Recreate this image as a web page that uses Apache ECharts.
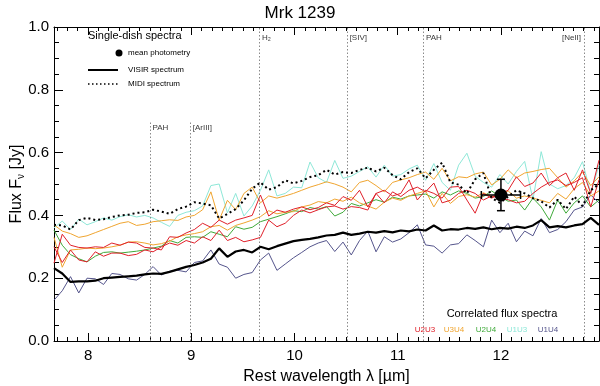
<!DOCTYPE html>
<html>
<head>
<meta charset="utf-8">
<script src="https://cdn.jsdelivr.net/npm/echarts@6/dist/echarts.min.js"></script>
<style>
  html, body { margin: 0; padding: 0; background: #fff; }
  #chart { width: 600px; height: 386px; }
</style>
</head>
<body>
<div id="chart"></div>
<script>
// wavelength grid [um]
var wavelength = [7.67, 7.75, 7.83, 7.91, 7.99, 8.07, 8.15, 8.23, 8.31, 8.39, 8.47, 8.55, 8.63, 8.71, 8.79, 8.87, 8.95,
  9.03, 9.11, 9.19, 9.27, 9.35, 9.43, 9.51, 9.59, 9.67, 9.75, 9.83, 9.91, 9.99, 10.07, 10.15, 10.23, 10.31, 10.39,
  10.47, 10.55, 10.63, 10.71, 10.79, 10.87, 10.95, 11.03, 11.11, 11.19, 11.27, 11.35, 11.43, 11.51, 11.59, 11.67,
  11.75, 11.83, 11.91, 11.99, 12.07, 12.15, 12.23, 12.31, 12.39, 12.47, 12.55, 12.63, 12.71, 12.79, 12.87, 12.95];

// single dish spectra
var visir = [0.232, 0.215, 0.188, 0.190, 0.190, 0.192, 0.200, 0.202, 0.204, 0.206, 0.208, 0.212, 0.215, 0.214, 0.220, 0.228, 0.236,
  0.242, 0.250, 0.262, 0.295, 0.268, 0.285, 0.290, 0.282, 0.300, 0.292, 0.302, 0.310, 0.318, 0.322, 0.325, 0.330, 0.336, 0.338,
  0.345, 0.338, 0.342, 0.348, 0.345, 0.350, 0.346, 0.352, 0.349, 0.355, 0.352, 0.368, 0.352, 0.356, 0.355, 0.360,
  0.357, 0.362, 0.356, 0.360, 0.358, 0.364, 0.360, 0.368, 0.385, 0.362, 0.366, 0.362, 0.368, 0.372, 0.392, 0.370];
var midi = [0.370, 0.368, 0.355, 0.385, 0.392, 0.385, 0.388, 0.395, 0.400, 0.402, 0.408, 0.410, 0.418, 0.412, 0.405, 0.420, 0.428,
  0.442, 0.438, 0.432, 0.390, 0.405, 0.420, 0.448, 0.485, 0.505, 0.482, 0.490, 0.512, 0.502, 0.510, 0.522, 0.528, 0.545, 0.530,
  0.538, 0.535, 0.545, 0.552, 0.540, 0.552, 0.528, 0.515, 0.538, 0.550, 0.518, 0.545, 0.568, 0.505, 0.498, 0.470,
  0.515, 0.535, 0.455, 0.440, 0.460, 0.480, 0.470, 0.455, 0.445, 0.425, 0.450, 0.420, 0.460, 0.430, 0.480, 0.500];

// mean photometry
var photWave = [12.0];
var photFlux = [0.465];
var photWaveErr = [0.19];
var photFluxErr = [0.05];

// correlated flux spectra
var u1u3 = [0.360, 0.382, 0.355, 0.388, 0.370, 0.380, 0.392, 0.385, 0.396, 0.402, 0.395, 0.400, 0.392, 0.378, 0.365, 0.400, 0.410,
  0.415, 0.430, 0.495, 0.500, 0.408, 0.470, 0.398, 0.430, 0.480, 0.545, 0.462, 0.470, 0.490, 0.488, 0.570, 0.520, 0.505, 0.575,
  0.518, 0.525, 0.540, 0.555, 0.522, 0.560, 0.525, 0.530, 0.548, 0.560, 0.512, 0.565, 0.505, 0.480, 0.560, 0.598,
  0.525, 0.505, 0.490, 0.530, 0.500, 0.540, 0.572, 0.450, 0.603, 0.500, 0.485, 0.495, 0.520, 0.571, 0.470, 0.560];
var u3u4a = [0.370, 0.350, 0.342, 0.330, 0.335, 0.345, 0.355, 0.365, 0.375, 0.380, 0.368, 0.372, 0.380, 0.383, 0.386, 0.384, 0.395,
  0.400, 0.418, 0.475, 0.385, 0.448, 0.418, 0.470, 0.490, 0.440, 0.462, 0.455, 0.462, 0.470, 0.480, 0.490, 0.498, 0.507, 0.500,
  0.490, 0.475, 0.505, 0.512, 0.495, 0.475, 0.505, 0.513, 0.520, 0.530, 0.538, 0.515, 0.550, 0.510, 0.523, 0.520,
  0.532, 0.538, 0.497, 0.515, 0.545, 0.520, 0.535, 0.540, 0.546, 0.550, 0.520, 0.490, 0.510, 0.538, 0.495, 0.523];
var u3u4b = [0.330, 0.235, 0.290, 0.292, 0.296, 0.294, 0.296, 0.300, 0.305, 0.315, 0.316, 0.312, 0.306, 0.310, 0.318, 0.332, 0.338,
  0.342, 0.348, 0.364, 0.368, 0.353, 0.368, 0.376, 0.385, 0.396, 0.415, 0.405, 0.410, 0.412, 0.427, 0.433, 0.444, 0.440, 0.452,
  0.445, 0.458, 0.440, 0.430, 0.420, 0.442, 0.455, 0.448, 0.462, 0.470, 0.478, 0.427, 0.470, 0.438, 0.460, 0.466,
  0.458, 0.472, 0.460, 0.465, 0.478, 0.455, 0.462, 0.455, 0.448, 0.440, 0.470, 0.452, 0.485, 0.505, 0.462, 0.478];
var u2u4 = [0.353, 0.305, 0.275, 0.262, 0.252, 0.270, 0.282, 0.284, 0.280, 0.283, 0.286, 0.290, 0.296, 0.302, 0.320, 0.312, 0.330,
  0.332, 0.330, 0.348, 0.340, 0.332, 0.364, 0.356, 0.362, 0.380, 0.388, 0.396, 0.405, 0.415, 0.412, 0.425, 0.420, 0.428, 0.398,
  0.410, 0.438, 0.430, 0.440, 0.450, 0.442, 0.458, 0.452, 0.462, 0.465, 0.468, 0.455, 0.475, 0.465, 0.478, 0.470,
  0.455, 0.460, 0.478, 0.460, 0.445, 0.449, 0.417, 0.455, 0.427, 0.385, 0.449, 0.407, 0.440, 0.462, 0.427, 0.449];
var u2u3a = [0.248, 0.340, 0.305, 0.298, 0.296, 0.300, 0.298, 0.312, 0.305, 0.315, 0.312, 0.298, 0.296, 0.290, 0.332, 0.330, 0.344,
  0.355, 0.375, 0.362, 0.385, 0.372, 0.385, 0.392, 0.400, 0.465, 0.398, 0.417, 0.410, 0.420, 0.427, 0.418, 0.425, 0.440, 0.432,
  0.460, 0.448, 0.480, 0.427, 0.470, 0.480, 0.462, 0.470, 0.513, 0.449, 0.480, 0.470, 0.455, 0.490, 0.492, 0.449,
  0.407, 0.470, 0.455, 0.468, 0.480, 0.523, 0.492, 0.503, 0.535, 0.495, 0.520, 0.535, 0.480, 0.545, 0.470, 0.576];
var u2u3b = [0.300, 0.250, 0.290, 0.258, 0.252, 0.284, 0.270, 0.280, 0.280, 0.272, 0.276, 0.290, 0.284, 0.300, 0.312, 0.305, 0.320,
  0.312, 0.332, 0.320, 0.353, 0.320, 0.330, 0.316, 0.322, 0.330, 0.385, 0.364, 0.375, 0.400, 0.417, 0.408, 0.418, 0.427, 0.430,
  0.420, 0.428, 0.425, 0.417, 0.470, 0.440, 0.475, 0.460, 0.480, 0.490, 0.475, 0.503, 0.440, 0.448, 0.470, 0.480,
  0.470, 0.449, 0.462, 0.455, 0.450, 0.440, 0.445, 0.470, 0.490, 0.505, 0.513, 0.495, 0.505, 0.520, 0.427, 0.513];
var u1u4 = [0.130, 0.160, 0.205, 0.153, 0.200, 0.198, 0.180, 0.215, 0.212, 0.198, 0.194, 0.212, 0.237, 0.210, 0.222, 0.225, 0.220,
  0.250, 0.255, 0.290, 0.245, 0.235, 0.200, 0.212, 0.218, 0.258, 0.280, 0.225, 0.245, 0.265, 0.282, 0.300, 0.312, 0.320, 0.285,
  0.315, 0.274, 0.320, 0.350, 0.284, 0.332, 0.315, 0.325, 0.345, 0.370, 0.306, 0.302, 0.280, 0.306, 0.310, 0.338,
  0.320, 0.300, 0.385, 0.345, 0.375, 0.316, 0.350, 0.335, 0.390, 0.345, 0.355, 0.380, 0.417, 0.427, 0.465, 0.440];

// spectral features
var featureNames = ['PAH', '[ArIII]', 'H\u2082', '[SIV]', 'PAH', '[NeII]'];
var featureWaves = [8.6, 8.99, 9.66, 10.51, 11.25, 12.81];
var featureTops = [0.70, 0.70, 1.0, 1.0, 1.0, 1.0];

var baselineNames = ['U2U3', 'U3U4', 'U2U4', 'U1U3', 'U1U4'];
var baselineColors = ['#e0202a', '#f0a530', '#3faa3a', '#8ee8d8', '#55558c'];

var FONT = 'Liberation Sans, Arial, sans-serif';
var chart = echarts.init(document.getElementById('chart'));

function pairs(vals) {
  return wavelength.map(function (w, i) { return [w, vals[i]]; });
}
function spec(name, vals, color, width, type, z) {
  return {
    name: name, type: 'line', data: pairs(vals), symbol: 'none',
    lineStyle: { color: color, width: width, type: type || 'solid' },
    z: z || 2, animation: false, silent: true
  };
}

var isInt = function (v) { return Math.abs(v - Math.round(v)) < 1e-6; };

var xBase = {
  type: 'value', min: 7.67, max: 12.95,
  axisLine: { onZero: false, lineStyle: { color: '#000', width: 1 } },
  axisTick: { inside: true, length: 8, lineStyle: { color: '#000' } },
  minorTick: { show: true, splitNumber: 10, length: 4, lineStyle: { color: '#000' } },
  splitLine: { show: false }
};
var yBase = {
  type: 'value', min: 0, max: 1, interval: 0.2,
  axisLine: { show: true, onZero: false, lineStyle: { color: '#000', width: 1 } },
  axisTick: { show: true, inside: true, length: 9, lineStyle: { color: '#000' } },
  minorTick: { show: true, splitNumber: 4, length: 5, lineStyle: { color: '#000' } },
  splitLine: { show: false }
};

var markLines = featureWaves.map(function (w, i) {
  return [{ coord: [w, 0] }, { coord: [w, featureTops[i]] }];
});
var featureLabels = featureWaves.map(function (w, i) {
  var left = featureNames[i] === '[NeII]';
  return {
    value: [w, featureTops[i] - (featureTops[i] > 0.9 ? 0.035 : 0.022)],
    name: featureNames[i],
    label: { position: left ? 'left' : 'right', distance: left ? 3 : 2 }
  };
});

var graphics = [
  { type: 'text', left: 88, top: 30, style: { text: 'Single-dish spectra', font: '11px ' + FONT, fill: '#000' } },
  { type: 'circle', shape: { cx: 119, cy: 53, r: 3.5 }, style: { fill: '#000' } },
  { type: 'text', left: 128, top: 49, style: { text: 'mean photometry', font: '8px ' + FONT, fill: '#000' } },
  { type: 'line', shape: { x1: 88, y1: 70, x2: 118, y2: 70 }, style: { stroke: '#000', lineWidth: 2 } },
  { type: 'text', left: 128, top: 66, style: { text: 'VISIR spectrum', font: '8px ' + FONT, fill: '#000' } },
  { type: 'line', shape: { x1: 88, y1: 84, x2: 118, y2: 84 }, style: { stroke: '#000', lineWidth: 1.5, lineDash: [1.5, 2.5] } },
  { type: 'text', left: 128, top: 80, style: { text: 'MIDI spectrum', font: '8px ' + FONT, fill: '#000' } },
  { type: 'text', x: 502, y: 314, style: { text: 'Correlated flux spectra', font: '11px ' + FONT, fill: '#000', textAlign: 'center', textVerticalAlign: 'middle' } }
];
var labelX = [425, 454, 486, 517, 548];
baselineNames.forEach(function (n, i) {
  graphics.push({ type: 'text', x: labelX[i], y: 330,
    style: { text: n, font: '8px ' + FONT, fill: baselineColors[i], textAlign: 'center', textVerticalAlign: 'middle' } });
});

chart.setOption({
  backgroundColor: '#fff',
  animation: false,
  title: {
    text: 'Mrk 1239', left: 'center', top: 0,
    textStyle: { fontFamily: FONT, fontSize: 17, fontWeight: 'normal', color: '#000' }
  },
  grid: { left: 54, right: 1, top: 27, bottom: 45, containLabel: false, outerBoundsMode: 'none' },
  xAxis: [
    Object.assign({}, xBase, {
      position: 'bottom',
      name: 'Rest wavelength \u03bb [\u00b5m]', nameLocation: 'middle', nameGap: 28,
      nameTextStyle: { fontFamily: FONT, fontSize: 16, color: '#000' },
      axisLabel: {
        showMinLabel: false, showMaxLabel: false, margin: 7,
        fontFamily: FONT, fontSize: 15, color: '#000',
        formatter: function (v) { return isInt(v) ? String(Math.round(v)) : ''; }
      }
    }),
    Object.assign({}, xBase, { position: 'top', axisLabel: { show: false } })
  ],
  yAxis: [
    Object.assign({}, yBase, {
      position: 'left',
      name: 'Flux F{sub|\u03bd} [Jy]', nameLocation: 'middle', nameGap: 28, nameMoveOverlap: false,
      nameTextStyle: {
        fontFamily: FONT, fontSize: 16, color: '#000',
        rich: { sub: { fontFamily: FONT, fontSize: 10, color: '#000', verticalAlign: 'bottom', padding: [8, 0, 0, 0] } }
      },
      axisLabel: {
        margin: 5, fontFamily: FONT, fontSize: 15, color: '#000',
        formatter: function (v) { return v.toFixed(1); }
      }
    }),
    Object.assign({}, yBase, { position: 'right', axisLabel: { show: false } })
  ],
  graphic: graphics,
  series: [
    spec('U1U4', u1u4, baselineColors[4], 1),
    spec('U1U3', u1u3, baselineColors[3], 1),
    spec('U2U4', u2u4, baselineColors[2], 1),
    spec('U3U4', u3u4a, baselineColors[1], 1),
    spec('U3U4b', u3u4b, baselineColors[1], 1),
    spec('U2U3', u2u3a, baselineColors[0], 1),
    spec('U2U3b', u2u3b, baselineColors[0], 1),
    Object.assign(spec('MIDI spectrum', midi, '#000', 2, [2, 3], 5), {
      markLine: {
        silent: true, symbol: 'none', animation: false,
        label: { show: false },
        lineStyle: { color: '#8a8a8a', width: 1, type: [1.5, 2] },
        data: markLines
      }
    }),
    spec('VISIR spectrum', visir, '#000', 2.2, 'solid', 6),
    {
      type: 'scatter', name: 'features', data: featureLabels, symbolSize: 1,
      itemStyle: { color: 'rgba(0,0,0,0)' }, silent: true, animation: false, z: 8,
      label: { show: true, formatter: '{b}', fontFamily: FONT, fontSize: 8, color: '#000' }
    },
    {
      type: 'custom', name: 'mean photometry', z: 10, animation: false, silent: true,
      data: photWave.map(function (w, i) { return [w, photFlux[i], photWaveErr[i], photFluxErr[i]]; }),
      renderItem: function (params, api) {
        var x = api.value(0), y = api.value(1), ex = api.value(2), ey = api.value(3);
        var c = api.coord([x, y]);
        var l = api.coord([x - ex, y]), r = api.coord([x + ex, y]);
        var t = api.coord([x, y + ey]), b = api.coord([x, y - ey]);
        var st = { stroke: '#000', lineWidth: 1.5 };
        var cap = 4;
        return {
          type: 'group',
          children: [
            { type: 'line', shape: { x1: l[0], y1: l[1], x2: r[0], y2: r[1] }, style: st },
            { type: 'line', shape: { x1: t[0], y1: t[1], x2: b[0], y2: b[1] }, style: st },
            { type: 'line', shape: { x1: l[0], y1: l[1] - cap, x2: l[0], y2: l[1] + cap }, style: st },
            { type: 'line', shape: { x1: r[0], y1: r[1] - cap, x2: r[0], y2: r[1] + cap }, style: st },
            { type: 'line', shape: { x1: t[0] - cap, y1: t[1], x2: t[0] + cap, y2: t[1] }, style: st },
            { type: 'line', shape: { x1: b[0] - cap, y1: b[1], x2: b[0] + cap, y2: b[1] }, style: st },
            { type: 'circle', shape: { cx: c[0], cy: c[1], r: 6.5 }, style: { fill: '#000' } }
          ]
        };
      }
    }
  ]
});
</script>
</body>
</html>
